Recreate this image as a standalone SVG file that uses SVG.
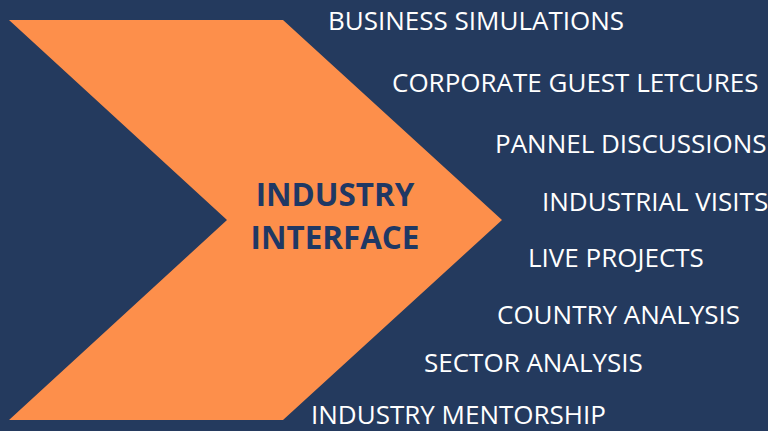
<svg xmlns="http://www.w3.org/2000/svg" width="768" height="431" viewBox="0 0 768 431">
<style>
.item{font-family:"Open Sans","Noto Sans",sans-serif;font-size:26px;fill:#ffffff}
.title{font-family:"Open Sans","Noto Sans",sans-serif;font-size:31.4px;font-weight:bold;fill:#1f3864;text-anchor:middle}
</style>
<rect width="768" height="431" fill="#243a5e"/>
<g id="chevron">
<polygon points="9,20 283,20 502,220 283,420 9,420 227,220" fill="#fd8f4b"/>
<text class="title" x="335" y="206">INDUSTRY</text>
<text class="title" x="335" y="249">INTERFACE</text>
</g>
<g id="items">
<text class="item" x="328" y="30">BUSINESS SIMULATIONS</text>
<text class="item" x="392" y="92">CORPORATE GUEST LETCURES</text>
<text class="item" x="495" y="153">PANNEL DISCUSSIONS</text>
<text class="item" x="542" y="211">INDUSTRIAL VISITS</text>
<text class="item" x="528" y="267">LIVE PROJECTS</text>
<text class="item" x="497" y="324">COUNTRY ANALYSIS</text>
<text class="item" x="424" y="372">SECTOR ANALYSIS</text>
<text class="item" x="311" y="424">INDUSTRY MENTORSHIP</text>
</g>
</svg>
